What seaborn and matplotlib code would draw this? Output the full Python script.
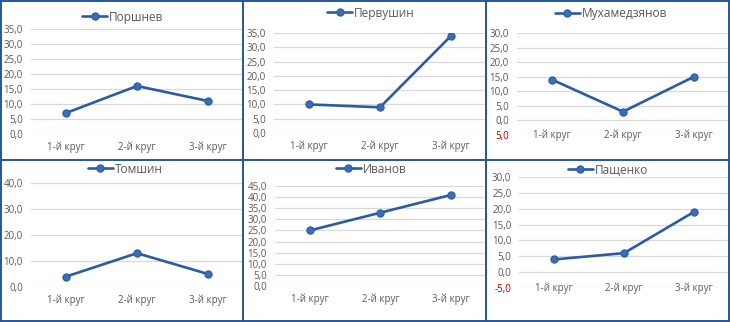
import matplotlib
matplotlib.use("Agg")
import matplotlib.pyplot as plt
from matplotlib.lines import Line2D
import seaborn as sns
import pandas as pd

# --- data -------------------------------------------------------------
rounds = ["1-й круг", "2-й круг", "3-й круг"]

porshnev = [7, 16, 11]
pervushin = [10, 9, 34]
mukhamedzyanov = [14, 3, 15]
tomshin = [4, 13, 5]
ivanov = [25, 33, 41]
pashchenko = [4, 6, 19]

names = ["Поршнев", "Первушин", "Мухамедзянов", "Томшин", "Иванов", "Пащенко"]

ticks_porshnev = [0, 5, 10, 15, 20, 25, 30, 35]
ticks_pervushin = [0, 5, 10, 15, 20, 25, 30, 35]
ticks_mukhamedzyanov = [-5, 0, 5, 10, 15, 20, 25, 30]
ticks_tomshin = [0, 10, 20, 30, 40]
ticks_ivanov = [0, 5, 10, 15, 20, 25, 30, 35, 40, 45]
ticks_pashchenko = [-5, 0, 5, 10, 15, 20, 25, 30]

# --- style ------------------------------------------------------------
sns.set_theme(style="white")
plt.rcParams["font.family"] = ["Open Sans", "DejaVu Sans"]

W, H = 730, 322
fig = plt.figure(figsize=(W / 100, H / 100), dpi=100)
fig.patch.set_facecolor("white")

LINE = "#2A5CA3"
MARK_FACE = "#3A6DB8"
TEXT = "#595959"
GRID = "#D9D9D9"
RED = "#C00000"
BORDER = "#24579A"
TICK_FS = 7.0
LEG_FS = 8.6


def fmt(v, keep_minus=True):
    s = f"{abs(v):.1f}".replace(".", ",")
    if v < 0 and keep_minus:
        s = "-" + s
    return s


# plot area in pixels: left, right, y of top tick, y of bottom tick
panels = [
    dict(vals=porshnev, ticks=ticks_porshnev, box=(30.5, 243.5, 29, 134), leg=(123, 17), low_labels=False, minus=True),
    dict(vals=pervushin, ticks=ticks_pervushin, box=(273.5, 486.5, 33, 133), leg=(371, 13), low_labels=False, minus=True),
    dict(vals=mukhamedzyanov, ticks=ticks_mukhamedzyanov, box=(516.5, 729.5, 33, 135), leg=(611, 14), low_labels=True, minus=False),
    dict(vals=tomshin, ticks=ticks_tomshin, box=(30.5, 243.5, 183, 287), leg=(125, 169), low_labels=False, minus=True),
    dict(vals=ivanov, ticks=ticks_ivanov, box=(274.5, 486.5, 186, 286), leg=(371, 169), low_labels=False, minus=True),
    dict(vals=pashchenko, ticks=ticks_pashchenko, box=(519, 729, 177, 288), leg=(608, 170), low_labels=True, minus=True),
]

for name, p in zip(names, panels):
    left, right, ytop, ybot = p["box"]
    ax = fig.add_axes([left / W, 1 - ybot / H, (right - left) / W, (ybot - ytop) / H])
    ax.set_facecolor("none")
    df = pd.DataFrame({"round": rounds, "value": p["vals"]})
    sns.lineplot(data=df, x="round", y="value", ax=ax, sort=False, color=LINE,
                 linewidth=1.9, marker="o", markersize=5.2, markerfacecolor=MARK_FACE,
                 markeredgecolor=LINE, markeredgewidth=0.8, label=name, zorder=3)
    t = p["ticks"]
    ax.set_xlim(-0.5, 2.5)
    ax.set_ylim(t[0], t[-1])
    labels = [fmt(v, p["minus"]) for v in t]
    ax.set_yticks(t, labels=labels)
    for v, lab in zip(t, ax.get_yticklabels()):
        lab.set_color(RED if v < 0 else TEXT)
    ax.set_xticks(range(len(rounds)), labels=rounds)
    ax.set_xlabel("")
    ax.set_ylabel("")
    ax.yaxis.grid(True, color=GRID, linewidth=0.9)
    ax.set_axisbelow(True)
    for s in ax.spines.values():
        s.set_visible(False)
    ax.tick_params(axis="y", length=0, pad=5.5, labelsize=TICK_FS)
    if p["low_labels"]:
        ax.tick_params(axis="x", length=0, pad=0, labelsize=TICK_FS, labelcolor=TEXT)
        for lab in ax.get_xticklabels():
            lab.set_verticalalignment("center")
    else:
        ax.tick_params(axis="x", length=0, pad=5.5, labelsize=TICK_FS, labelcolor=TEXT)
    cx, cy = p["leg"]
    ax.legend(loc="center", bbox_to_anchor=(cx / W, 1 - cy / H),
              bbox_transform=fig.transFigure, frameon=False,
              fontsize=LEG_FS, handlelength=2.1, handletextpad=0.15,
              borderpad=0, labelcolor=TEXT)

# panel frames
lw = 1.4
for x in (0.7, 243, 486, 729.3):
    fig.add_artist(Line2D([x / W, x / W], [0, 1], color=BORDER, linewidth=lw))
for y in (0.7, 160, 321.3):
    fig.add_artist(Line2D([0, 1], [1 - y / H, 1 - y / H], color=BORDER, linewidth=lw))

fig.savefig("out.png", dpi=100, facecolor="white")
